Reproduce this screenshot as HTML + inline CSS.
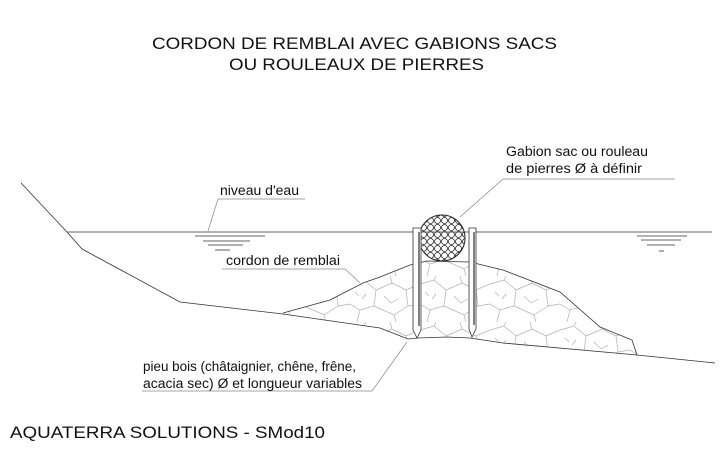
<!DOCTYPE html>
<html><head><meta charset="utf-8"><style>
html,body{margin:0;padding:0;background:#fff}
svg{display:block}
text{font-family:"Liberation Sans",Arial,sans-serif;fill:#111}
</style></head><body>
<svg width="720" height="460" viewBox="0 0 720 460" xmlns="http://www.w3.org/2000/svg">
<defs>
<pattern id="stones" width="70" height="46" patternUnits="userSpaceOnUse">
<path d="M0 8 L14 4 L26 14 L24 30 L10 34 L0 28 M26 14 L42 7 L56 14 L58 30 L44 39 L24 30 M56 14 L70 8 M58 30 L70 28 M10 34 L7 46 M44 39 L46 46 M42 7 L40 0 M14 4 L16 0 M16 18 L12 23 M34 20 L41 27 L48 23 M5 16 L9 20" fill="none" stroke="#b0b0b0" stroke-width="0.7"/>
</pattern>
<pattern id="rocks" width="7" height="7" patternUnits="userSpaceOnUse">
<circle cx="3.5" cy="3.5" r="3" fill="none" stroke="#222" stroke-width="0.8"/>
</pattern>
<clipPath id="mound"><path d="M283 313 L330 300 L363 283 L380 277 L410 265 L427 261 L470 262 L503 270 L560 292 L600 327 L632 340 L637 355 L503 343 L470 338 L447 337 L418 338 L408 339 L380 328 Z"/></clipPath>
</defs>

<text x="152" y="49" font-size="17" textLength="405" lengthAdjust="spacingAndGlyphs">CORDON DE REMBLAI AVEC GABIONS SACS</text>
<text x="229" y="70" font-size="17" textLength="255" lengthAdjust="spacingAndGlyphs">OU ROULEAUX DE PIERRES</text>

<g clip-path="url(#mound)"><rect x="280" y="255" width="360" height="105" fill="url(#stones)"/></g>
<path d="M283 313 L330 300 L363 283 L380 277 L410 265 L427 261 L470 262 L503 270 L560 292 L600 327 L632 340 L637 355" fill="none" stroke="#333" stroke-width="0.8"/>

<path d="M21 183 L67 232 L82 249 L180 302 L283 314 L380 328 L408 339 L418 338 L447 337 L470 338 L503 343 L637 355 L715 363" fill="none" stroke="#333" stroke-width="0.8"/>
<line x1="67" y1="232" x2="712" y2="232" stroke="#333" stroke-width="0.8"/>

<g stroke="#333" stroke-width="0.8">
<line x1="195" y1="236" x2="265" y2="236"/><line x1="203" y1="241" x2="250" y2="241"/><line x1="208" y1="245" x2="243" y2="245"/><line x1="215" y1="250" x2="230" y2="250"/>
<line x1="637" y1="236" x2="687" y2="236"/><line x1="641" y1="240" x2="681" y2="240"/><line x1="647" y1="245" x2="675" y2="245"/><line x1="659" y1="251" x2="664" y2="251"/>
</g>

<circle cx="442" cy="238" r="23" fill="url(#rocks)" stroke="#222" stroke-width="1"/>

<g stroke="#333" stroke-width="0.8" fill="#fff">
<path d="M413 228 L421 228 L421 330 L417 338 L413 330 Z"/>
<path d="M469 228 L476 228 L476 329 L472 337 L469 329 Z"/>
</g>
<line x1="419" y1="232" x2="419" y2="326" stroke="#555" stroke-width="1.5"/>
<line x1="474" y1="232" x2="474" y2="325" stroke="#555" stroke-width="1.5"/>

<g stroke="#888" stroke-width="0.7" fill="none">
<path d="M305 199 L218 199 L208 231"/>
<path d="M222 269 L345 269 L360 283"/>
<path d="M675 179 L503 179 L460 217"/>
<path d="M142 391 L372 391 L407 342"/>
</g>

<g font-size="13.5">
<text x="220" y="195" textLength="79" lengthAdjust="spacingAndGlyphs">niveau d'eau</text>
<text x="226" y="265" textLength="114" lengthAdjust="spacingAndGlyphs">cordon de remblai</text>
<text x="506" y="156" textLength="142" lengthAdjust="spacingAndGlyphs">Gabion sac ou rouleau</text>
<text x="506" y="173" textLength="136" lengthAdjust="spacingAndGlyphs">de pierres Ø à définir</text>
<text x="143" y="371" textLength="213" lengthAdjust="spacingAndGlyphs">pieu bois (châtaignier, chêne, frêne,</text>
<text x="143" y="388" textLength="219" lengthAdjust="spacingAndGlyphs">acacia sec) Ø et longueur variables</text>
</g>
<text x="10" y="438" font-size="17" textLength="315" lengthAdjust="spacingAndGlyphs">AQUATERRA SOLUTIONS - SMod10</text>
</svg>
</body></html>
